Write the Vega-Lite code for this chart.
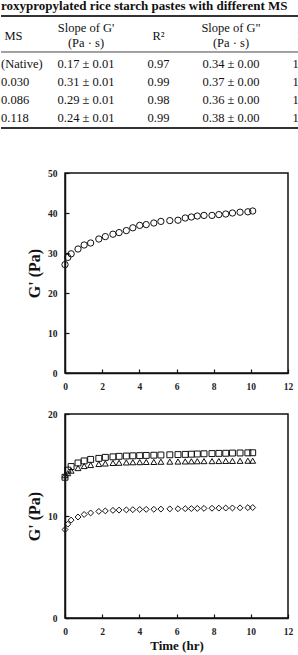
{
  "$schema": "https://vega.github.io/schema/vega-lite/v6.json",
  "padding": 0,
  "background": "white",
  "spacing": 16,
  "datasets": {
    "title": [{"text": "roxypropylated rice starch pastes with different MS"}],
    "header": [
      {"col": 1, "text": "MS"},
      {"col": 2, "text": "Slope of G'\n(Pa · s)"},
      {"col": 3, "text": "R²"},
      {"col": 4, "text": "Slope of G\"\n(Pa · s)"},
      {"col": 5, "text": "R²"}
    ],
    "body": [
      {"row": 1, "col": 1, "text": "(Native)"},
      {"row": 1, "col": 2, "text": "0.17 ± 0.01"},
      {"row": 1, "col": 3, "text": "0.97"},
      {"row": 1, "col": 4, "text": "0.34 ± 0.00"},
      {"row": 1, "col": 5, "text": "1.00"},
      {"row": 2, "col": 1, "text": "0.030"},
      {"row": 2, "col": 2, "text": "0.31 ± 0.01"},
      {"row": 2, "col": 3, "text": "0.99"},
      {"row": 2, "col": 4, "text": "0.37 ± 0.00"},
      {"row": 2, "col": 5, "text": "1.00"},
      {"row": 3, "col": 1, "text": "0.086"},
      {"row": 3, "col": 2, "text": "0.29 ± 0.01"},
      {"row": 3, "col": 3, "text": "0.98"},
      {"row": 3, "col": 4, "text": "0.36 ± 0.00"},
      {"row": 3, "col": 5, "text": "1.00"},
      {"row": 4, "col": 1, "text": "0.118"},
      {"row": 4, "col": 2, "text": "0.24 ± 0.01"},
      {"row": 4, "col": 3, "text": "0.99"},
      {"row": 4, "col": 4, "text": "0.38 ± 0.00"},
      {"row": 4, "col": 5, "text": "1.00"}
    ],
    "c1": [
      {"t": 0, "g": 27.1}, {"t": 0.15, "g": 28.9}, {"t": 0.33, "g": 29.8}, {"t": 0.7, "g": 31.0},
      {"t": 1.03, "g": 32.0}, {"t": 1.38, "g": 32.5}, {"t": 1.82, "g": 33.5}, {"t": 2.17, "g": 34.1},
      {"t": 2.58, "g": 34.7}, {"t": 2.91, "g": 35.1}, {"t": 3.3, "g": 35.6}, {"t": 3.65, "g": 36.3},
      {"t": 4.02, "g": 36.9}, {"t": 4.37, "g": 37.1}, {"t": 4.78, "g": 37.5}, {"t": 5.16, "g": 37.9},
      {"t": 5.64, "g": 38.1}, {"t": 6.08, "g": 38.2}, {"t": 6.47, "g": 38.75}, {"t": 6.8, "g": 39.0},
      {"t": 7.12, "g": 39.25}, {"t": 7.48, "g": 39.4}, {"t": 7.91, "g": 39.4}, {"t": 8.28, "g": 39.6},
      {"t": 8.65, "g": 39.75}, {"t": 9.01, "g": 40.0}, {"t": 9.42, "g": 40.2}, {"t": 9.84, "g": 40.3},
      {"t": 10.1, "g": 40.5}
    ],
    "c2": [
      {"MS": "0.030", "t": 0, "g": 13.8}, {"MS": "0.030", "t": 0.15, "g": 14.5}, {"MS": "0.030", "t": 0.33, "g": 14.85},
      {"MS": "0.030", "t": 0.7, "g": 15.2}, {"MS": "0.030", "t": 1.03, "g": 15.4}, {"MS": "0.030", "t": 1.38, "g": 15.55},
      {"MS": "0.030", "t": 1.82, "g": 15.65}, {"MS": "0.030", "t": 2.17, "g": 15.75}, {"MS": "0.030", "t": 2.58, "g": 15.8},
      {"MS": "0.030", "t": 2.91, "g": 15.85}, {"MS": "0.030", "t": 3.3, "g": 15.88}, {"MS": "0.030", "t": 3.65, "g": 15.9},
      {"MS": "0.030", "t": 4.02, "g": 15.92}, {"MS": "0.030", "t": 4.37, "g": 15.94}, {"MS": "0.030", "t": 4.78, "g": 15.96},
      {"MS": "0.030", "t": 5.16, "g": 15.98}, {"MS": "0.030", "t": 5.64, "g": 16.0}, {"MS": "0.030", "t": 6.08, "g": 16.02},
      {"MS": "0.030", "t": 6.47, "g": 16.04}, {"MS": "0.030", "t": 6.8, "g": 16.06}, {"MS": "0.030", "t": 7.12, "g": 16.08},
      {"MS": "0.030", "t": 7.48, "g": 16.1}, {"MS": "0.030", "t": 7.91, "g": 16.12}, {"MS": "0.030", "t": 8.28, "g": 16.14},
      {"MS": "0.030", "t": 8.65, "g": 16.15}, {"MS": "0.030", "t": 9.01, "g": 16.17}, {"MS": "0.030", "t": 9.42, "g": 16.18},
      {"MS": "0.030", "t": 9.84, "g": 16.19}, {"MS": "0.030", "t": 10.1, "g": 16.2},
      {"MS": "0.086", "t": 0, "g": 14.0}, {"MS": "0.086", "t": 0.15, "g": 14.2}, {"MS": "0.086", "t": 0.33, "g": 14.45},
      {"MS": "0.086", "t": 0.7, "g": 14.7}, {"MS": "0.086", "t": 1.03, "g": 14.9}, {"MS": "0.086", "t": 1.38, "g": 15.0},
      {"MS": "0.086", "t": 1.82, "g": 15.1}, {"MS": "0.086", "t": 2.17, "g": 15.15}, {"MS": "0.086", "t": 2.58, "g": 15.2},
      {"MS": "0.086", "t": 2.91, "g": 15.22}, {"MS": "0.086", "t": 3.3, "g": 15.25}, {"MS": "0.086", "t": 3.65, "g": 15.27},
      {"MS": "0.086", "t": 4.02, "g": 15.28}, {"MS": "0.086", "t": 4.37, "g": 15.3}, {"MS": "0.086", "t": 4.78, "g": 15.3},
      {"MS": "0.086", "t": 5.16, "g": 15.32}, {"MS": "0.086", "t": 5.64, "g": 15.33}, {"MS": "0.086", "t": 6.08, "g": 15.34},
      {"MS": "0.086", "t": 6.47, "g": 15.35}, {"MS": "0.086", "t": 6.8, "g": 15.36}, {"MS": "0.086", "t": 7.12, "g": 15.37},
      {"MS": "0.086", "t": 7.48, "g": 15.38}, {"MS": "0.086", "t": 7.91, "g": 15.38}, {"MS": "0.086", "t": 8.28, "g": 15.39},
      {"MS": "0.086", "t": 8.65, "g": 15.4}, {"MS": "0.086", "t": 9.01, "g": 15.4}, {"MS": "0.086", "t": 9.42, "g": 15.41},
      {"MS": "0.086", "t": 9.84, "g": 15.42}, {"MS": "0.086", "t": 10.1, "g": 15.42},
      {"MS": "0.118", "t": 0, "g": 8.67}, {"MS": "0.118", "t": 0.15, "g": 9.2}, {"MS": "0.118", "t": 0.33, "g": 9.6},
      {"MS": "0.118", "t": 0.7, "g": 9.9}, {"MS": "0.118", "t": 1.03, "g": 10.15}, {"MS": "0.118", "t": 1.38, "g": 10.3},
      {"MS": "0.118", "t": 1.82, "g": 10.45}, {"MS": "0.118", "t": 2.17, "g": 10.5}, {"MS": "0.118", "t": 2.58, "g": 10.55},
      {"MS": "0.118", "t": 2.91, "g": 10.58}, {"MS": "0.118", "t": 3.3, "g": 10.6}, {"MS": "0.118", "t": 3.65, "g": 10.62},
      {"MS": "0.118", "t": 4.02, "g": 10.64}, {"MS": "0.118", "t": 4.37, "g": 10.65}, {"MS": "0.118", "t": 4.78, "g": 10.66},
      {"MS": "0.118", "t": 5.16, "g": 10.68}, {"MS": "0.118", "t": 5.64, "g": 10.7}, {"MS": "0.118", "t": 6.08, "g": 10.71},
      {"MS": "0.118", "t": 6.47, "g": 10.72}, {"MS": "0.118", "t": 6.8, "g": 10.73}, {"MS": "0.118", "t": 7.12, "g": 10.74},
      {"MS": "0.118", "t": 7.48, "g": 10.75}, {"MS": "0.118", "t": 7.91, "g": 10.76}, {"MS": "0.118", "t": 8.28, "g": 10.77},
      {"MS": "0.118", "t": 8.65, "g": 10.78}, {"MS": "0.118", "t": 9.01, "g": 10.79}, {"MS": "0.118", "t": 9.42, "g": 10.8},
      {"MS": "0.118", "t": 9.84, "g": 10.82}, {"MS": "0.118", "t": 10.1, "g": 10.83}
    ]
  },
  "vconcat": [
    {
      "width": 234,
      "height": 151,
      "view": {"stroke": null},
      "layer": [
        {
          "data": {"name": "title"},
          "mark": {"type": "rule", "color": "#333", "strokeWidth": 1.8},
          "encoding": {
            "x": {"datum": 0.8276, "type": "quantitative", "scale": {"domain": [1.7103, 4.9379], "nice": false, "zero": false}, "axis": null},
            "x2": {"datum": 4.9379},
            "y": {"datum": -1.667, "type": "quantitative", "scale": {"domain": [-2.5556, 5.8333], "reverse": true, "nice": false, "zero": false}, "axis": null}
          }
        },
        {
          "data": {"name": "title"},
          "mark": {"type": "rule", "color": "#444", "strokeWidth": 1},
          "encoding": {
            "x": {"datum": 0.8276, "type": "quantitative", "scale": {"domain": [1.7103, 4.9379], "nice": false, "zero": false}, "axis": null},
            "x2": {"datum": 4.9379},
            "y": {"datum": 0.333, "type": "quantitative", "scale": {"domain": [-2.5556, 5.8333], "reverse": true, "nice": false, "zero": false}, "axis": null}
          }
        },
        {
          "data": {"name": "title"},
          "mark": {"type": "rule", "color": "#333", "strokeWidth": 1.8},
          "encoding": {
            "x": {"datum": 0.8276, "type": "quantitative", "scale": {"domain": [1.7103, 4.9379], "nice": false, "zero": false}, "axis": null},
            "x2": {"datum": 4.9379},
            "y": {"datum": 4.556, "type": "quantitative", "scale": {"domain": [-2.5556, 5.8333], "reverse": true, "nice": false, "zero": false}, "axis": null}
          }
        },
        {
          "data": {"name": "title"},
          "mark": {"type": "text", "align": "left", "baseline": "middle", "fontWeight": "bold", "fontSize": 13, "font": "Liberation Serif", "color": "#111"},
          "encoding": {
            "x": {"datum": 0.8276, "type": "quantitative", "scale": {"domain": [1.7103, 4.9379], "nice": false, "zero": false}, "axis": null},
            "y": {"datum": -2.2, "type": "quantitative", "scale": {"domain": [-2.5556, 5.8333], "reverse": true, "nice": false, "zero": false}, "axis": null},
            "text": {"field": "text"}
          }
        },
        {
          "data": {"name": "header"},
          "transform": [{"filter": "datum.col == 2 || datum.col == 4"}],
          "mark": {"type": "text", "align": "center", "baseline": "middle", "fontSize": 12.5, "font": "Liberation Serif", "lineBreak": "\n", "lineHeight": 15, "color": "#111"},
          "encoding": {
            "x": {"field": "col", "type": "quantitative", "scale": {"domain": [1.7103, 4.9379], "nice": false, "zero": false}, "axis": null},
            "y": {"datum": -1.0, "type": "quantitative", "scale": {"domain": [-2.5556, 5.8333], "reverse": true, "nice": false, "zero": false}, "axis": null},
            "text": {"field": "text"}
          }
        },
        {
          "data": {"name": "header"},
          "transform": [{"filter": "datum.col == 1 || datum.col == 3 || datum.col == 5"}],
          "mark": {"type": "text", "align": "center", "baseline": "middle", "fontSize": 12.5, "font": "Liberation Serif", "color": "#111"},
          "encoding": {
            "x": {"field": "col", "type": "quantitative", "scale": {"domain": [1.7103, 4.9379], "nice": false, "zero": false}, "axis": null},
            "y": {"datum": -0.583, "type": "quantitative", "scale": {"domain": [-2.5556, 5.8333], "reverse": true, "nice": false, "zero": false}, "axis": null},
            "text": {"field": "text"}
          }
        },
        {
          "data": {"name": "body"},
          "transform": [{"filter": "datum.col == 1"}],
          "mark": {"type": "text", "align": "left", "baseline": "middle", "fontSize": 12.5, "font": "Liberation Serif", "color": "#111"},
          "encoding": {
            "x": {"datum": 0.8276, "type": "quantitative", "scale": {"domain": [1.7103, 4.9379], "nice": false, "zero": false}, "axis": null},
            "y": {"field": "row", "type": "quantitative", "scale": {"domain": [-2.5556, 5.8333], "reverse": true, "nice": false, "zero": false}, "axis": null},
            "text": {"field": "text"}
          }
        },
        {
          "data": {"name": "body"},
          "transform": [{"filter": "datum.col > 1"}],
          "mark": {"type": "text", "align": "center", "baseline": "middle", "fontSize": 12.5, "font": "Liberation Serif", "color": "#111"},
          "encoding": {
            "x": {"field": "col", "type": "quantitative", "scale": {"domain": [1.7103, 4.9379], "nice": false, "zero": false}, "axis": null},
            "y": {"field": "row", "type": "quantitative", "scale": {"domain": [-2.5556, 5.8333], "reverse": true, "nice": false, "zero": false}, "axis": null},
            "text": {"field": "text"}
          }
        }
      ]
    },
    {
      "width": 223,
      "height": 200,
      "data": {"name": "c1"},
      "mark": {"type": "point", "shape": "circle", "filled": false, "color": "#111", "strokeWidth": 1, "size": 40, "opacity": 1},
      "encoding": {
        "x": {"field": "t", "type": "quantitative", "scale": {"domain": [0, 12], "nice": false}, "axis": {"values": [0, 2, 4, 6, 8, 10, 12], "title": null, "format": "d"}},
        "y": {"field": "g", "type": "quantitative", "scale": {"domain": [0, 50], "nice": false}, "axis": {"values": [0, 10, 20, 30, 40, 50], "title": "G' (Pa)", "format": "d"}}
      }
    },
    {
      "width": 223,
      "height": 204,
      "data": {"name": "c2"},
      "mark": {"type": "point", "filled": false, "color": "#111", "strokeWidth": 1, "size": 35, "opacity": 1},
      "encoding": {
        "x": {"field": "t", "type": "quantitative", "scale": {"domain": [0, 12], "nice": false}, "axis": {"values": [0, 2, 4, 6, 8, 10, 12], "title": "Time (hr)", "format": "d", "titleFontSize": 13, "titlePadding": 4}},
        "y": {"field": "g", "type": "quantitative", "scale": {"domain": [0, 20], "nice": false}, "axis": {"values": [0, 10, 20], "title": "G' (Pa)", "format": "d"}},
        "shape": {"field": "MS", "type": "nominal", "scale": {"domain": ["0.030", "0.086", "0.118"], "range": ["square", "triangle-up", "diamond"]}, "legend": null}
      }
    }
  ],
  "config": {
    "font": "Liberation Serif",
    "view": {"stroke": "#111", "strokeWidth": 1.5},
    "axis": {
      "grid": false,
      "domainColor": "#111",
      "domainWidth": 1.5,
      "tickColor": "#111",
      "tickSize": -4,
      "tickWidth": 1.2,
      "labelFont": "Liberation Serif",
      "labelFontWeight": "bold",
      "labelFontSize": 9.5,
      "labelColor": "#222",
      "labelFlush": false,
      "labelOverlap": false,
      "titleFont": "Liberation Serif",
      "titleFontWeight": "bold",
      "titleColor": "#111",
      "titleFontSize": 16
    },
    "axisX": {"labelPadding": 12},
    "axisY": {"labelPadding": 12, "titlePadding": 5}
  }
}
